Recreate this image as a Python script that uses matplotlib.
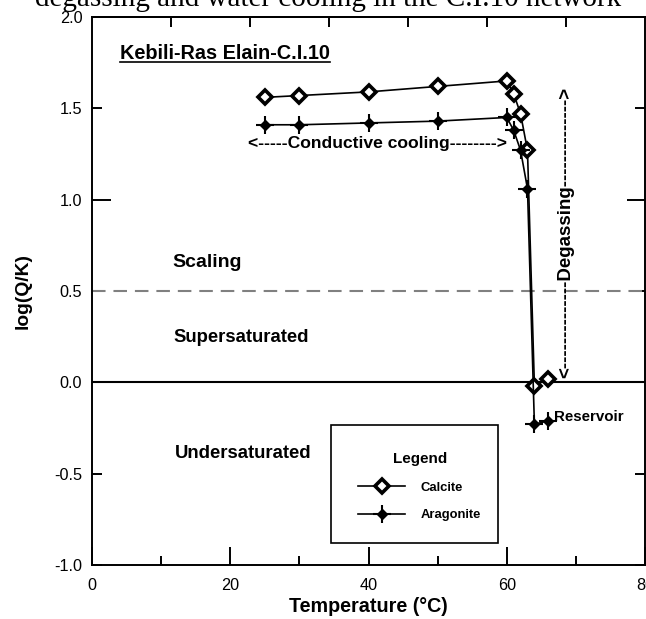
import numpy as np
import matplotlib
matplotlib.use('Agg')
import matplotlib.pyplot as plt
from matplotlib import font_manager as fm
from matplotlib.patches import Rectangle

plt.rcParams['font.family'] = ['Liberation Sans', 'DejaVu Sans']
plt.rcParams['axes.unicode_minus'] = False

# Saturation indices (temperature in deg C, log(Q/K))
temp_calcite = [25, 30, 40, 50, 60, 61, 62, 63, 64, 66]
logqk_calcite = [1.56, 1.57, 1.59, 1.62, 1.65, 1.58, 1.47, 1.27, -0.02, 0.02]
temp_aragonite = [25, 30, 40, 50, 60, 61, 62, 63, 64, 66]
logqk_aragonite = [1.41, 1.41, 1.42, 1.43, 1.45, 1.38, 1.27, 1.06, -0.23, -0.21]

x_major = [0, 20, 40, 60, 80]
x_minor = [10, 30, 50, 70]
y_ticks = [-1.0, -0.5, 0.0, 0.5, 1.0, 1.5, 2.0]

names = {f.name for f in fm.fontManager.ttflist}
narrow = 'Liberation Sans Narrow' if 'Liberation Sans Narrow' in names else 'Liberation Sans'
big_size = 16.5 if narrow == 'Liberation Sans Narrow' else 13.3

fig = plt.figure(figsize=(6.46, 6.19), dpi=100)
ax = fig.add_axes([92 / 646, 1 - 565 / 619, 553 / 646, 548 / 619])

ax.set_xlim(0, 80)
ax.set_ylim(-1, 2)

# reference lines
ax.axhline(0, color='black', lw=1.5, zorder=2)
ax.axhline(0.5, color='#808080', lw=1.5, ls=(0, (6.5, 3.8)), zorder=2)

calc_line, = ax.plot(temp_calcite, logqk_calcite, color='black', lw=1.2,
                     marker='D', ms=7, mfc='white', mec='black', mew=2.6, zorder=4)
arag_line, = ax.plot(temp_aragonite, logqk_aragonite, color='black', lw=1.2,
                     marker='D', ms=5.5, mfc='black', mec='black', zorder=5)
arag_cross, = ax.plot(temp_aragonite, logqk_aragonite, ls='none', marker='+',
                      ms=13, mew=1.5, color='black', zorder=5)

# legend box
ax.add_patch(Rectangle((34.6, -0.881), 24.1, 0.648, fc='white', ec='black', lw=1.2, zorder=3))
leg = ax.legend([calc_line, (arag_line, arag_cross)], ['Calcite', 'Aragonite'],
                title='Legend', loc='upper left', bbox_to_anchor=(37.6, -0.345),
                bbox_transform=ax.transData, frameon=False, borderpad=0,
                handlelength=3.6, handletextpad=1.15, labelspacing=1.2,
                prop={'weight': 'bold', 'size': 9.4},
                title_fontproperties={'weight': 'bold', 'size': 11})
leg.set_zorder(6)

# annotations
kebili = ax.text(4.1, 1.772, 'Kebili-Ras Elain-C.I.10', fontsize=14.3, fontweight='bold',
                 ha='left', va='baseline')
ax.text(41.3, 1.31, '<-----Conductive cooling-------->', fontsize=12.6, fontweight='bold',
        ha='center', va='center')
ax.text(68.6, 0.82, '<' + '-' * 14 + 'Degassing' + '-' * 14 + '>', fontsize=13.5,
        fontweight='bold', rotation=90, ha='center', va='center')
ax.text(11.6, 0.655, 'Scaling', fontsize=14, fontweight='bold', ha='left', va='center')
ax.text(11.8, 0.245, 'Supersaturated', fontsize=big_size, fontweight='bold',
        family=narrow, ha='left', va='center')
ax.text(12.0, -0.39, 'Undersaturated', fontsize=big_size, fontweight='bold',
        family=narrow, ha='left', va='center')
ax.text(66.9, -0.191, 'Reservoir', fontsize=10.9, fontweight='bold', ha='left', va='center')

fig.text(35 / 646, 1 - 6 / 619, 'degassing and water cooling in the C.I.10 network',
         family='Liberation Serif', fontsize=21, ha='left', va='baseline')

# axes styling
ax.set_xticks(x_major)
ax.set_xticks(x_minor, minor=True)
ax.set_yticks(y_ticks)
ax.set_yticklabels(['%.1f' % v for v in y_ticks])
ax.tick_params(axis='x', which='major', direction='in', length=13, width=1.4,
               top=False, labelsize=11.7, pad=9)
ax.tick_params(axis='x', which='minor', direction='in', length=6.5, width=1.4, top=False)
ax.tick_params(axis='y', which='major', direction='in', length=7.2, width=1.4,
               right=True, labelsize=11.7, pad=7)
for t in ax.yaxis.get_major_ticks():
    if abs(t.get_loc() - 1.0) < 1e-6:
        t.tick1line.set_markersize(13.5)
        t.tick2line.set_markersize(13)
for s in ax.spines.values():
    s.set_linewidth(1.4)

secax = ax.secondary_xaxis('top')
secax.set_xticks(np.arange(1, 7) * 80 / 7)
secax.tick_params(direction='in', length=7.5, width=1.4, labeltop=False)
secax.spines['top'].set_linewidth(1.4)

ax.set_xlabel('Temperature (°C)', fontsize=14.2, fontweight='bold', labelpad=3)
ax.set_ylabel('log(Q/K)', fontsize=13.9, fontweight='bold', labelpad=16)

# underline for the site name
fig.canvas.draw()
bb = kebili.get_window_extent()
inv = ax.transData.inverted()
(ux0, _), (ux1, _) = inv.transform([(bb.x0, bb.y0), (bb.x1, bb.y0)])
ax.plot([ux0, ux1], [1.756, 1.756], color='black', lw=1.2)

fig.savefig('out.png', dpi=100)
